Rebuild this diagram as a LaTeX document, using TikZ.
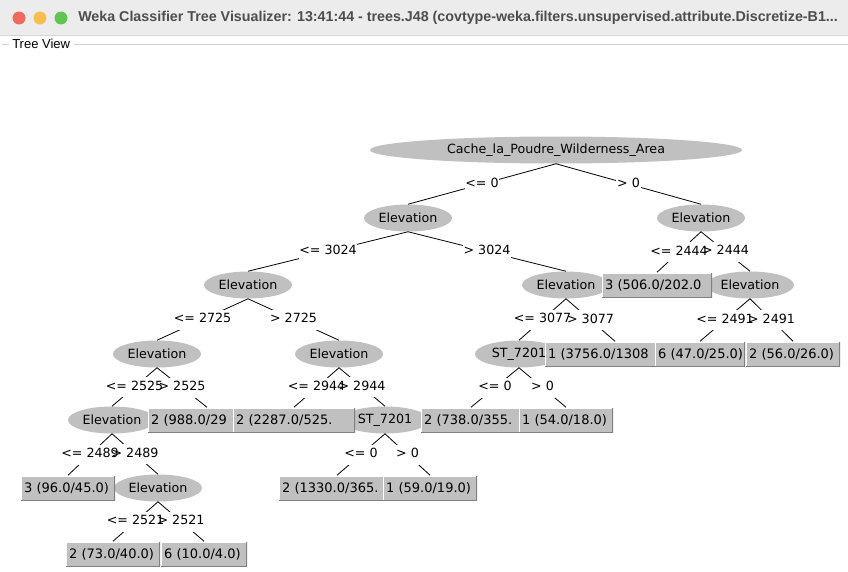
\documentclass[tikz,border=0pt]{standalone}
\usepackage{fontspec}
\setmainfont{DejaVu Sans}
\newfontfamily\barfont{Liberation Sans}
\usetikzlibrary{shapes.geometric}
\definecolor{nodegray}{RGB}{192,192,192}
\definecolor{shadegray}{RGB}{128,128,128}
\definecolor{bargray}{RGB}{236,236,236}
\definecolor{barline}{RGB}{214,214,214}
\definecolor{titlegray}{RGB}{77,77,77}
\definecolor{etchgray}{RGB}{208,208,208}
\definecolor{lightred}{RGB}{237,106,94}
\definecolor{lightyellow}{RGB}{245,190,79}
\definecolor{lightgreen}{RGB}{97,197,84}
\newcommand{\treefont}{\fontsize{9.5}{11}\selectfont}
\newcommand{\leaffont}{\fontsize{9.75}{11}\selectfont}
% parent/child/test of every branch
\newcommand{\treebranches}{root/n1/{<= 0}, root/n2/{> 0},
    n1/n3/{<= 3024}, n1/n4/{> 3024}, n2/l1/{<= 2444}, n2/n5/{> 2444},
    n3/n6/{<= 2725}, n3/n7/{> 2725}, n4/n8/{<= 3077}, n4/l2/{> 3077},
    n5/l3/{<= 2491}, n5/l4/{> 2491}, n6/n9/{<= 2525}, n6/l5/{> 2525},
    n7/l6/{<= 2944}, n7/n10/{> 2944}, n8/l7/{<= 0}, n8/l8/{> 0},
    n9/l9/{<= 2489}, n9/n11/{> 2489}, n10/l10/{<= 0}, n10/l11/{> 0},
    n11/l12/{<= 2521}, n11/l13/{> 2521}}

\begin{document}
\begin{tikzpicture}[x=0.75pt, y=-0.75pt,
    split/.style={ellipse, fill=nodegray, inner sep=0pt, minimum width=66pt, minimum height=20.25pt, font=\treefont},
    leaf/.style={rectangle, fill=nodegray, inner xsep=2.25pt, inner ysep=0pt, minimum height=18.75pt, align=left, font=\leaffont,
        path picture={
            \draw[white, line width=1.5pt] (path picture bounding box.south west) -- (path picture bounding box.north west) -- (path picture bounding box.north east);
            \draw[shadegray, line width=1.5pt] (path picture bounding box.south west) -- (path picture bounding box.south east) -- (path picture bounding box.north east);
        }},
    cond/.style={inner xsep=0.5pt, inner ysep=3pt, text height=7pt, text depth=2pt, font=\treefont},
    wash/.style={cond, fill=white},
    branch/.style={draw=black, line width=0.6pt}
]
\useasboundingbox[fill=white] (0,0) rectangle (848,571);

% window title bar
\fill[bargray] (0,0) rectangle (848,35);
\draw[barline] (0,35) -- (848,35);
\fill[lightred] (19,18) circle (6.5);
\fill[lightyellow] (40,18) circle (6.5);
\fill[lightgreen] (61,18) circle (6.5);
\node[anchor=west, inner sep=0pt, text=titlegray, font=\barfont\bfseries\fontsize{10.7}{12}\selectfont] (wintitle) at (78,18)
    {Weka Classifier Tree Visualizer: 13:41:44 - trees.J48 (covtype-weka.filters.unsupervised.attribute.Discretize-B1...};
\node[anchor=west, inner sep=0pt, font=\barfont\fontsize{9.75}{11}\selectfont] (viewtitle) at (12,44) {Tree View};
\draw[etchgray] (2,44) -- ([xshift=-2pt]viewtitle.west);
\draw[etchgray] ([xshift=3pt]viewtitle.east) -- (848,44);

% split nodes
\node[split, minimum width=279pt] (root) at (556,150) {Cache\_la\_Poudre\_Wilderness\_Area};
\node[split] (n1) at (408,218) {Elevation};
\node[split] (n2) at (701,218) {Elevation};
\node[split] (n3) at (248,285) {Elevation};
\node[split] (n4) at (566,285) {Elevation};
\node[split] (n5) at (750,285) {Elevation};
\node[split] (n6) at (157,354) {Elevation};
\node[split] (n7) at (339,354) {Elevation};
\node[split] (n8) at (519,354) {ST\_7201};
\node[split] (n9) at (112,420) {Elevation};
\node[split] (n10) at (385,420) {ST\_7201};
\node[split] (n11) at (158,488) {Elevation};

% leaves, later ones lie over earlier ones
\node[leaf, text width=66pt] (l9) at (68,488) {3~(96.0/45.0)};
\node[leaf, text width=66pt] (l12) at (113,554) {2~(73.0/40.0)};
\node[leaf, text width=60pt] (l13) at (204,554) {6~(10.0/4.0)};
\node[leaf, text width=84pt] (l5) at (207,420) {2~(988.0/29};
\node[leaf, text width=87pt] (l6) at (294,420) {2~(2287.0/525.};
\node[leaf, text width=82.5pt] (l10) at (337,488) {2~(1330.0/365.};
\node[leaf, text width=66pt] (l11) at (430,488) {1~(59.0/19.0)};
\node[leaf, text width=70.5pt] (l7) at (471,420) {2~(738.0/355.};
\node[leaf, text width=66pt] (l8) at (566,420) {1~(54.0/18.0)};
\node[leaf, text width=100.5pt] (l2) at (615,354) {1~(3756.0/1308};
\node[leaf, text width=78pt] (l1) at (657,285) {3~(506.0/202.0};
\node[leaf, text width=63pt] (l3) at (700,354) {6~(47.0/25.0)};
\node[leaf, text width=66pt] (l4) at (793,354) {2~(56.0/26.0)};

% branches first, then the tests on top of them
\foreach \p/\c/\t in \treebranches
    \draw[branch] (\p.south) -- node[wash] {\phantom{\t}} (\c.north);
\foreach \p/\c/\t in \treebranches
    \path (\p.south) -- node[cond] {\t} (\c.north);
\end{tikzpicture}
\end{document}
